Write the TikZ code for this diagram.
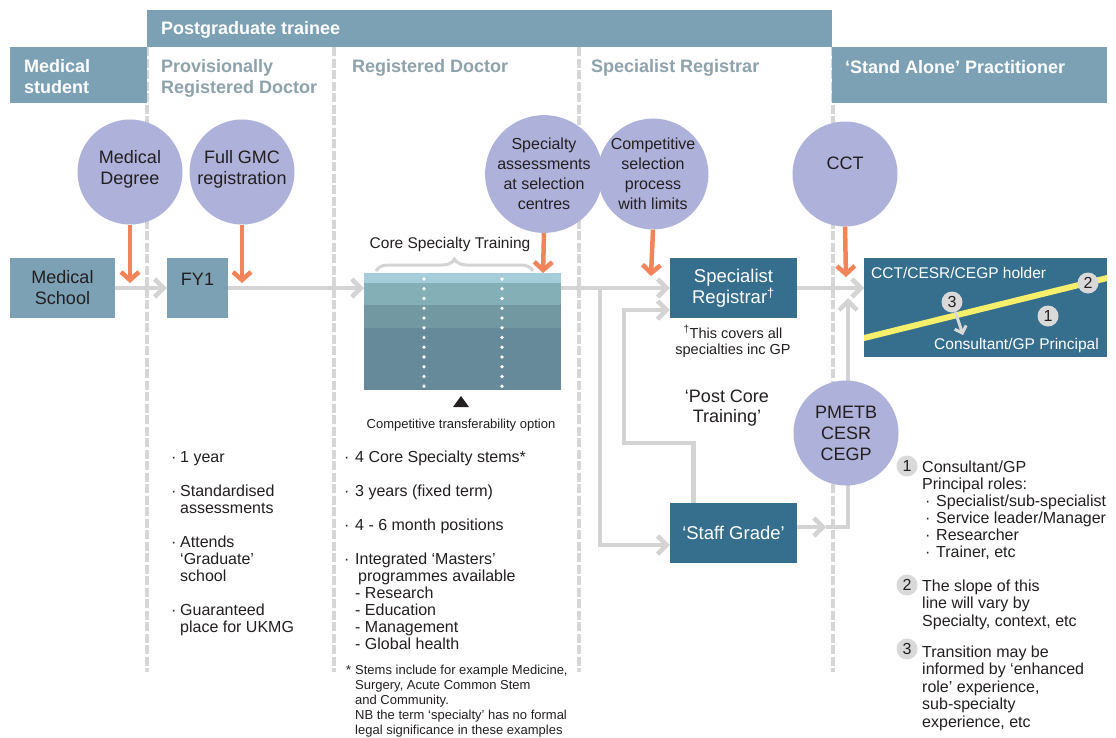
\documentclass[tikz,border=0pt]{standalone}
\usepackage{fontspec}
\setmainfont{Liberation Sans}
\usetikzlibrary{arrows.meta,decorations.pathreplacing,calc}
\definecolor{hdr}{HTML}{7CA1B4}
\definecolor{dark}{HTML}{366E8D}
\definecolor{colhd}{HTML}{8EA2AB}
\definecolor{lav}{HTML}{AEB1D9}
\definecolor{org}{HTML}{F2845A}
\definecolor{conn}{HTML}{D4D4D4}
\definecolor{dashc}{HTML}{D6D6D6}
\definecolor{yel}{HTML}{F6EF6B}
\definecolor{numbg}{HTML}{D9D9D9}
\definecolor{txt}{HTML}{231F20}
\definecolor{bandA}{HTML}{A4CCD9}
\definecolor{bandB}{HTML}{84AFB7}
\definecolor{bandC}{HTML}{7299A1}
\definecolor{bandD}{HTML}{668A9A}
\newcommand{\myfs}[2]{\fontsize{#1}{#2}\selectfont}
\begin{document}
\begin{tikzpicture}[x=1pt,y=-1pt,
  hdrbox/.style={fill=hdr, inner sep=0pt},
  hdrtxt/.style={text=white, font=\bfseries\myfs{18}{21}, align=left, anchor=base west, inner sep=0pt},
  coltxt/.style={text=colhd, font=\bfseries\myfs{18}{21}, align=left, anchor=base west, inner sep=0pt},
  dashln/.style={draw=dashc, line width=4.3pt, dash pattern=on 9pt off 2.5pt},
  circ/.style={circle, fill=lav, minimum size=105pt, inner sep=0pt, align=center, text=txt, font=\myfs{18}{21}},
  lbox/.style={fill=hdr, inner sep=0pt, align=center, text=txt, font=\myfs{18}{21}},
  dbox/.style={fill=dark, inner sep=0pt, align=center, text=white, font=\myfs{18.5}{21}},
  garrow/.style={draw=conn, line width=4.5pt, -{Straight Barb[length=9pt,width=18pt]}},
  oarrow/.style={draw=org, line width=4.5pt, -{Straight Barb[length=8pt,width=18pt]}},
  note/.style={anchor=base west, inner sep=0pt, align=left, text=txt, font=\myfs{16}{17}},
  smallnote/.style={anchor=base west, inner sep=0pt, align=left, text=txt, font=\myfs{13}{15}},
  numc/.style={circle, fill=numbg, minimum size=21pt, inner sep=0pt, text=txt, font=\myfs{16}{16}}
]
\useasboundingbox (0,0) rectangle (1116,737);
\fill[white] (0,0) rectangle (1116,737);

% column separators
\draw[dashln] (147,47) -- (147,672);
\draw[dashln] (334,47) -- (334,672);
\draw[dashln] (579,47) -- (579,672);
\draw[dashln] (833,47) -- (833,672);

% header (multi-line nodes: base = last line)
\node[hdrbox, anchor=north west, minimum width=685pt, minimum height=37pt] (pgt) at (147,10) {};
\node[hdrtxt] (pgtt) at (161,34) {Postgraduate trainee};
\node[hdrbox, anchor=north west, minimum width=137pt, minimum height=56pt] (msb) at (10,47) {};
\node[hdrtxt] (mst) at (24,93) {Medical\\student};
\node[hdrbox, anchor=north west, minimum width=275pt, minimum height=56pt] (sab) at (832,47) {};
\node[hdrtxt] (sat) at (845,73) {‘Stand Alone’ Practitioner};
\node[coltxt] (c1) at (161,93) {Provisionally\\Registered Doctor};
\node[coltxt] (c2) at (352,72) {Registered Doctor};
\node[coltxt] (c3) at (591,72) {Specialist Registrar};

% boxes
\node[lbox, minimum width=105pt, minimum height=60pt] (ms) at (62.5,288) {Medical\\School};
\node[lbox, minimum width=61pt, minimum height=60pt] (fy1) at (197.5,288) {};
\node[anchor=base, inner sep=0pt, text=txt, font=\myfs{18}{21}] (fy1t) at (197.5,285) {FY1};

\node[fill=bandD, anchor=north west, minimum width=197pt, minimum height=117pt, inner sep=0pt] (core) at (364,273) {};
\fill[bandA] (364,273) rectangle (561,283);
\fill[bandB] (364,283) rectangle (561,305);
\fill[bandC] (364,305) rectangle (561,328);
\draw[white, line width=3.6pt, line cap=round, dash pattern=on 0pt off 9.75pt] (424,279) -- (424,390);
\draw[white, line width=3.6pt, line cap=round, dash pattern=on 0pt off 9.75pt] (502,279) -- (502,390);
\draw[conn, line width=3pt, decorate, decoration={brace, amplitude=12pt}] (376,271) -- (533,271);
\node[anchor=base, inner sep=0pt, text=txt, font=\myfs{15.5}{17}] (cst) at (450,248) {Core Specialty Training};
\fill[txt] (453,407) -- (469,407) -- (461,396) -- cycle;
\node[anchor=base, inner sep=0pt, text=txt, font=\myfs{13}{15}] (cto) at (461,428) {Competitive transferability option};

\node[dbox, minimum width=127pt, minimum height=60pt] (spr) at (733.5,288) {Specialist\\Registrar\textsuperscript{†}};
\node[anchor=base, align=center, inner sep=0pt, text=txt, font=\myfs{14.5}{16}] (sprf) at (733,354) {\textsuperscript{†}This covers all\\specialties inc GP};
\node[anchor=base, align=center, inner sep=0pt, text=txt, font=\myfs{18}{20}] (pct) at (727,422) {‘Post Core\\Training’};
\node[dbox, minimum width=127pt, minimum height=60pt] (sg) at (733.5,533) {‘Staff Grade’};

% connectors
\coordinate (br) at (600,288);
\coordinate (sgj) at (826,527);
\coordinate (upt) at (848,298);
\coordinate (lp1) at (624,443);
\coordinate (lp2) at (624,310);
\draw[garrow] (ms.east) -- (fy1.west);
\draw[garrow] (fy1.east) -- (fy1.east -| core.west);
\draw[garrow] (fy1.east -| core.east) -- (fy1.east -| spr.west);
\draw[garrow] (br) |- ([yshift=-12pt]sg.west);
\draw[garrow] ([xshift=-40pt]sg.north) |- (lp1) -- (lp2) -- ([yshift=-22pt]spr.west);
\draw[garrow] ([yshift=6pt]sg.east) -- (sgj);
\draw[garrow] (sgj) -- (848,527) -- (upt);

% CCT holder box
\node[fill=dark, anchor=north west, minimum width=243pt, minimum height=99pt, inner sep=0pt] (cb) at (864,258) {};
\draw[garrow] (spr.east) -- (spr.east -| cb.west);
\begin{scope}
\clip (864,258) rectangle (1107,357);
\draw[yel, line width=6pt] (860,339) -- (1110,277.3);
\end{scope}
\node[anchor=base west, inner sep=0pt, text=white, font=\myfs{15.5}{17}] (cbt) at (871,278) {CCT/CESR/CEGP holder};
\node[anchor=base west, inner sep=0pt, text=white, font=\myfs{15.5}{17}] (cbp) at (934,349) {Consultant/GP Principal};
\node[numc] (n2) at (1088,283) {2};
\node[numc] (n3) at (952,302) {3};
\node[numc] (n1) at (1048,316) {1};
\coordinate (n3e) at (963,335);
\draw[draw=numbg, line width=3pt, -{Straight Barb[length=6pt,width=12pt]}] (n3) -- (n3e);

% circles
\node[circ] (md) at (130,172) {Medical\\Degree\\[-11pt]\mbox{}};
\node[circ] (gmc) at (242,172) {Full GMC\\registration\\[-11pt]\mbox{}};
\node[circ, font=\myfs{16}{20}] (spa) at (544,174) {Specialty\\assessments\\at selection\\centres};
\node[circ, font=\myfs{16}{20}] (csp) at (653,174) {Competitive\\selection\\process\\with limits};
\node[circ] (cct) at (845,174) {\raisebox{22pt}{CCT}};
\node[circ] (pm) at (846,433) {PMETB\\CESR\\CEGP};

% orange arrows
\coordinate (mdt) at (130,283);
\coordinate (gmct) at (242,283);
\coordinate (spat) at (543,273);
\coordinate (cspt) at (651,276);
\coordinate (cctt) at (846,277);
\draw[oarrow] (md.south) -- (mdt);
\draw[oarrow] (gmc.south) -- (gmct);
\draw[oarrow] (spa.south) -- (spat);
\draw[oarrow] (csp.south) -- (cspt);
\draw[oarrow] (cct.south) -- (cctt);

% left column notes
\node[note] (l1) at (171,462) {\makebox[9pt][l]{·}1 year};
\node[note] (l2) at (171,513) {\makebox[9pt][l]{·}Standardised\\\hspace*{9pt}assessments};
\node[note] (l3) at (171,581) {\makebox[9pt][l]{·}Attends\\\hspace*{9pt}‘Graduate’\\\hspace*{9pt}school};
\node[note] (l4) at (171,632) {\makebox[9pt][l]{·}Guaranteed\\\hspace*{9pt}place for UKMG};

% middle column notes
\node[note] (m1) at (344,462) {\makebox[11pt][l]{·}4 Core Specialty stems*};
\node[note] (m2) at (344,496) {\makebox[11pt][l]{·}3 years (fixed term)};
\node[note] (m3) at (344,530) {\makebox[11pt][l]{·}4 - 6 month positions};
\node[note] (m4) at (344,649) {\makebox[11pt][l]{·}Integrated ‘Masters’\\\hspace*{14pt}programmes available\\\hspace*{11pt}- Research\\\hspace*{11pt}- Education\\\hspace*{11pt}- Management\\\hspace*{11pt}- Global health};
\node[smallnote] (mf) at (346,734.5) {\makebox[9pt][l]{*}Stems include for example Medicine,\\\hspace*{9pt}Surgery, Acute Common Stem\\\hspace*{9pt}and Community.\\\hspace*{9pt}NB the term ‘specialty’ has no formal\\\hspace*{9pt}legal significance in these examples};

% right notes
\node[numc] (r1) at (907,466) {1};
\node[note] (r1t) at (922,557) {Consultant/GP\\Principal roles:\\\hspace*{3pt}\makebox[11pt][l]{·}Specialist/sub-specialist\\\hspace*{3pt}\makebox[11pt][l]{·}Service leader/Manager\\\hspace*{3pt}\makebox[11pt][l]{·}Researcher\\\hspace*{3pt}\makebox[11pt][l]{·}Trainer, etc};
\node[numc] (r2) at (907,585) {2};
\node[note, font=\myfs{16}{17.5}] (r2t) at (922,626) {The slope of this\\line will vary by\\Specialty, context, etc};
\node[numc] (r3) at (907,649) {3};
\node[note, font=\myfs{16}{17.5}] (r3t) at (922,727) {Transition may be\\informed by ‘enhanced\\role’ experience,\\sub-specialty\\experience, etc};
\end{tikzpicture}
\end{document}
